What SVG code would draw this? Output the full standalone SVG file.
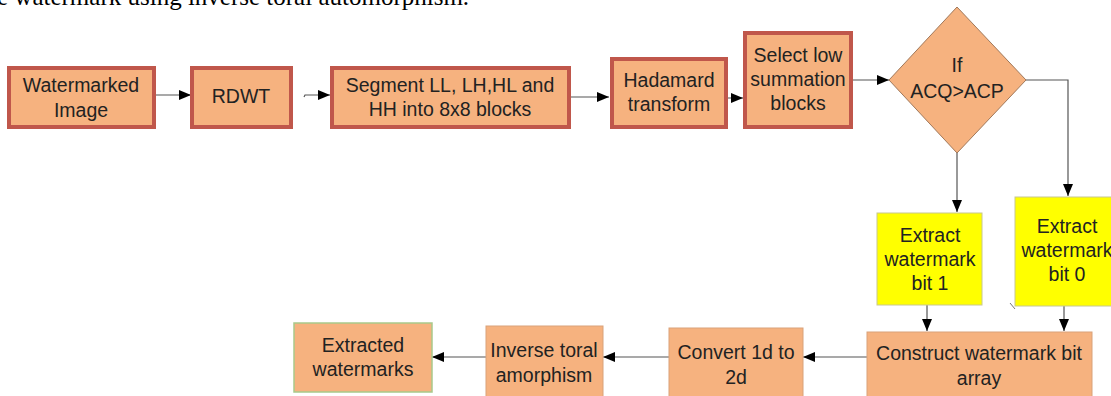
<svg xmlns="http://www.w3.org/2000/svg" width="1111" height="396" viewBox="0 0 1111 396">
<defs>
<marker id="arr" viewBox="0 0 12 10" refX="12" refY="5" markerWidth="12" markerHeight="10" markerUnits="userSpaceOnUse" orient="auto">
<path d="M0,0 L12,5 L0,10 Z" fill="#000"/>
</marker>
<style>
.bg{fill:#ffffff}
.thick{fill:#f6b27f;stroke:#c0574b;stroke-width:4}
.thin{fill:#f6b27f;stroke:#d9a27a;stroke-width:1}
.green{fill:#f6b27f;stroke:#a9c98a;stroke-width:1.5}
.yel{fill:#ffff00;stroke:#c8c890;stroke-width:1}
.dia{fill:#f6b27f;stroke:#a0785a;stroke-width:1}
text{font-family:"Liberation Sans",Arial,sans-serif;font-size:19.5px;fill:#222;text-anchor:middle}
.title{font-family:"Liberation Serif","Times New Roman",serif;font-size:25px;fill:#000;text-anchor:start}
.c{fill:none;stroke:#555;stroke-width:1.2;marker-end:url(#arr)}
.cn{fill:none;stroke:#777;stroke-width:1}
</style>
</defs>
<rect class="bg" x="0" y="0" width="1111" height="396"/>
<text class="title" x="-3" y="5">e watermark using inverse toral automorphism.</text>

<g id="connectors">
<line class="c" x1="154" y1="95" x2="191" y2="95"/>
<path class="c" d="M304,97 L305,95 L330,95"/>
<line class="c" x1="568" y1="97" x2="609" y2="97"/>
<line class="c" x1="706" y1="98" x2="743" y2="98"/>
<line class="c" x1="852" y1="80" x2="889" y2="80"/>
<line class="c" x1="957" y1="153" x2="957" y2="212"/>
<polyline class="c" points="1026,80 1068,80 1068,196"/>
<line class="c" x1="927" y1="305" x2="927" y2="331"/>
<line class="c" x1="1064" y1="306" x2="1064" y2="331"/>
<line class="c" x1="867" y1="357" x2="803" y2="357"/>
<line class="c" x1="669" y1="357" x2="603" y2="357"/>
<line class="c" x1="486" y1="357" x2="432" y2="357"/>
<line class="cn" x1="1010" y1="303" x2="1015" y2="309"/>
</g>

<g id="n1"><rect class="thick" x="9" y="68" width="145" height="59"/>
<text x="81" y="92">Watermarked</text><text x="81" y="117">Image</text></g>
<g id="n2"><rect class="thick" x="192" y="68" width="99" height="59"/>
<text x="241" y="103">RDWT</text></g>
<g id="n3"><rect class="thick" x="332" y="68" width="237" height="59"/>
<text x="450" y="92">Segment LL, LH,HL and</text><text x="450" y="116">HH into 8x8 blocks</text></g>
<g id="n4"><rect class="thick" x="612" y="59" width="114" height="68"/>
<text x="669" y="87">Hadamard</text><text x="669" y="111">transform</text></g>
<g id="n5"><rect class="thick" x="745" y="33" width="106" height="94"/>
<text x="798" y="62">Select low</text><text x="798" y="86">summation</text><text x="798" y="110">blocks</text></g>
<g id="n6"><polygon class="dia" points="957,7 1026,80 957,153 889,80"/>
<text x="957" y="72">If</text><text x="957" y="98">ACQ&gt;ACP</text></g>
<g id="n7"><rect class="yel" x="877" y="213" width="105" height="92"/>
<text x="930" y="242">Extract</text><text x="930" y="266">watermark</text><text x="930" y="290">bit 1</text></g>
<g id="n8"><rect class="yel" x="1015" y="197" width="110" height="109"/>
<text x="1067" y="233">Extract</text><text x="1067" y="257">watermark</text><text x="1067" y="281">bit 0</text></g>
<g id="n9"><rect class="thin" x="867" y="332" width="225" height="70"/>
<text x="979" y="360">Construct watermark bit</text><text x="979" y="385">array</text></g>
<g id="n10"><rect class="thin" x="669" y="328" width="134" height="72"/>
<text x="736" y="359">Convert 1d to</text><text x="736" y="384">2d</text></g>
<g id="n11"><rect class="thin" x="486" y="326" width="117" height="74"/>
<text x="544" y="357">Inverse toral</text><text x="544" y="382">amorphism</text></g>
<g id="n12"><rect class="green" x="294" y="323" width="138" height="69"/>
<text x="363" y="352">Extracted</text><text x="363" y="376">watermarks</text></g>
</svg>
